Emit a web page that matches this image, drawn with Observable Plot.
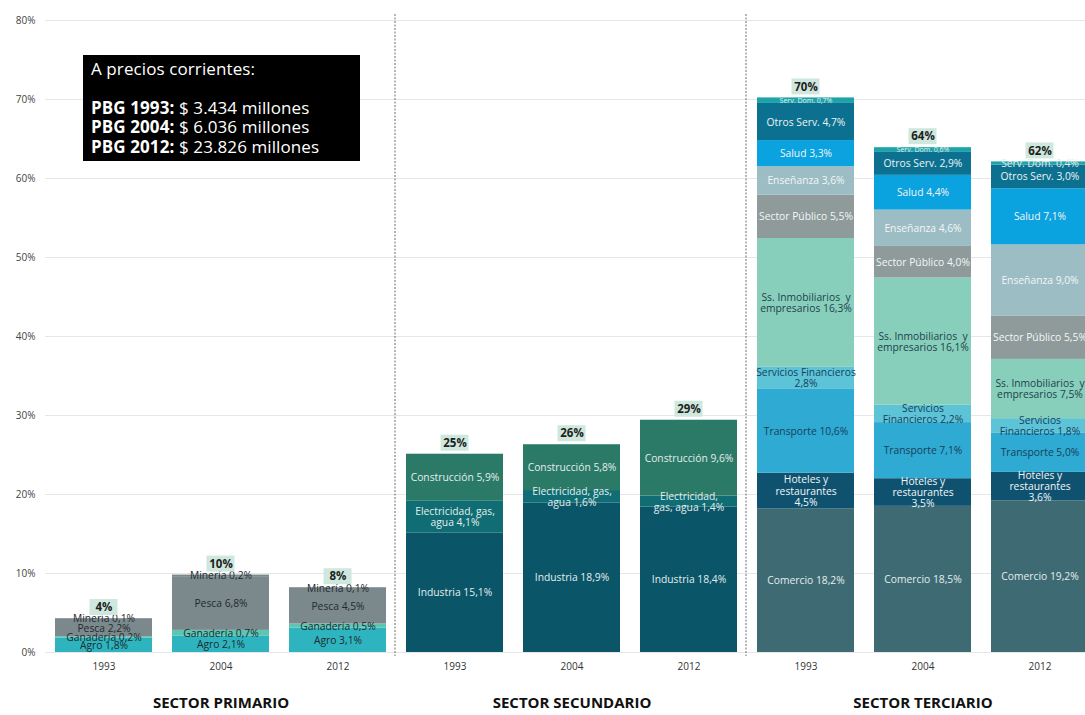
<!DOCTYPE html>
<html>
<head>
<meta charset="utf-8">
<script src="https://cdn.jsdelivr.net/npm/d3@7"></script>
<script src="https://cdn.jsdelivr.net/npm/@observablehq/plot@0.6"></script>
<style>
  html, body { margin: 0; padding: 0; background: #fff; overflow: hidden; }
  #wrap { position: relative; width: 1085px; height: 715px; font-family: "Open Sans", sans-serif; }
  #box { position: absolute; left: 83px; top: 55px; width: 269px; height: 102px; background: #000; color: #fff;
         padding: 4px 0 0 8px; font-size: 17px; line-height: 19.4px; white-space: pre; letter-spacing: 0.1px; }
  #box b { font-weight: 700; }
</style>
</head>
<body>
<div id="wrap"><div id="box"></div></div>
<script>
// ---------------- data ----------------
const years = ["1993", "2004", "2012"];
const sectorNames = ["SECTOR PRIMARIO", "SECTOR SECUNDARIO", "SECTOR TERCIARIO"];

const primRamas = ["Agro", "Ganadería", "Pesca", "Minería"];
const prim1993 = [1.8, 0.2, 2.2, 0.1];
const prim2004 = [2.1, 0.7, 6.8, 0.2];
const prim2012 = [3.1, 0.5, 4.5, 0.1];

const secRamas = ["Industria", "Electricidad, gas,\nagua", "Construcción"];
const sec1993 = [15.1, 4.1, 5.9];
const sec2004 = [18.9, 1.6, 5.8];
const sec2012 = [18.4, 1.4, 9.6];

const terRamas = ["Comercio", "Hoteles y\nrestaurantes\n", "Transporte", "Servicios\nFinancieros",
  "Ss. Inmobiliarios  y\nempresarios", "Sector Público", "Enseñanza", "Salud", "Otros Serv.", "Serv. Dom."];
const ter1993 = [18.2, 4.5, 10.6, 2.8, 16.3, 5.5, 3.6, 3.3, 4.7, 0.7];
const ter2004 = [18.5, 3.5, 7.1, 2.2, 16.1, 4.0, 4.6, 4.4, 2.9, 0.6];
const ter2012 = [19.2, 3.6, 5.0, 1.8, 7.5, 5.5, 9.0, 7.1, 3.0, 0.4];

// label wording that differs for a given bar
const labelOverrides = {
  "SECTOR SECUNDARIO|2012|1": "Electricidad,\ngas, agua",
  "SECTOR TERCIARIO|1993|3": "Servicios Financieros\n"
};

// styles
const primColors = ["#2db4bf", "#5ec5b1", "#7b898d", "#7b898d"];
const primText = ["#1f2a2e", "#1f2a2e", "#1f2a2e", "#1f2a2e"];
const secColors = ["#0a5668", "#0f6d73", "#2b7a67"];
const secText = ["#e4eded", "#e4eded", "#e4eded"];
const terColors = ["#3e6b73", "#0e5270", "#2eaad3", "#5dc4d8", "#87cfba", "#8f9b9b", "#9dbdc5", "#0aa2df", "#0c7190", "#1ea3a9"];
const terText = ["#e4eded", "#f2f6f6", "#173f5c", "#173f5c", "#1f3f50", "#f2f6f6", "#f2f6f6", "#f2f6f6", "#eef3f3", "#e4eded"];

const boxTitle = "A precios corrientes:";
const pbgYears = ["1993", "2004", "2012"];
const pbgValues = ["3.434", "6.036", "23.826"];

// ---------------- build rows ----------------
const sectors = [
  {name: sectorNames[0], ramas: primRamas, vals: [prim1993, prim2004, prim2012], colors: primColors, text: primText},
  {name: sectorNames[1], ramas: secRamas, vals: [sec1993, sec2004, sec2012], colors: secColors, text: secText},
  {name: sectorNames[2], ramas: terRamas, vals: [ter1993, ter2004, ter2012], colors: terColors, text: terText}
];
const fmt = v => v.toFixed(1).replace(".", ",") + "%";
const keys = [];
const rows = [];
const totals = [];
sectors.forEach(s => {
  years.forEach((yr, yi) => {
    const key = s.name + "|" + yr;
    keys.push(key);
    let total = 0;
    s.ramas.forEach((r, ri) => {
      const v = s.vals[yi][ri];
      total += v;
      const name = labelOverrides[key + "|" + ri] || r;
      const label = name.endsWith("\n") ? name + fmt(v) : name + " " + fmt(v);
      rows.push({key, sector: s.name, year: yr, rama: r, value: v, label,
        color: s.colors[ri], textColor: s.text[ri], small: r === "Serv. Dom." && yr !== "2012"});
    });
    totals.push({key, total, label: Math.round(total) + "%"});
  });
});
const sectorLabels = sectors.map(s => ({key: s.name + "|" + years[1], name: s.name}));
const dividers = [sectors[1].name + "|" + years[0], sectors[2].name + "|" + years[0]];
const yTicks = d3.range(0, 81, 10);

// ---------------- chart ----------------
const chart = Plot.plot({
  width: 1085,
  height: 715,
  marginTop: 20,
  marginBottom: 63,
  marginLeft: 45,
  marginRight: 0,
  style: {fontFamily: "Open Sans, sans-serif", background: "white"},
  x: {domain: keys, range: [45, 1098], paddingInner: 0.17, paddingOuter: 0.085, axis: null},
  y: {domain: [0, 80], axis: null},
  color: {type: "identity"},
  marks: [
    Plot.gridY(yTicks, {stroke: "#e6e6e6", strokeOpacity: 1}),
    Plot.axisY(yTicks, {tickSize: 0, tickPadding: 10, tickFormat: d => d + "%", fontSize: 10, fill: "#444", label: null}),
    Plot.axisX(keys, {tickSize: 0, tickPadding: 10, tickFormat: k => k.split("|")[1], fontSize: 10, fill: "#333", label: null}),
    Plot.ruleX(dividers, {dx: -60, stroke: "#6f6f6f", strokeDasharray: "2,1.5", strokeWidth: 1, insetTop: -6, insetBottom: -4}),
    Plot.rectY(rows, Plot.stackY({x: "key", y: "value", fill: "color"})),
    Plot.text(rows, Plot.stackY({x: "key", y: "value", text: "label", fill: "textColor",
      fontSize: d => d.small ? 7 : 10.3, lineHeight: 1.08})),
    Plot.barY(totals, {x: "key", y1: "total", y2: "total", fill: "#cfe8dd", insetTop: -19, insetBottom: 3, insetLeft: 34.5, insetRight: 34.5}),
    Plot.text(totals, {x: "key", y: "total", text: "label", dy: -11, fontWeight: "bold", fontSize: 11.5, fill: "#1e1e1e"}),
    Plot.text(sectorLabels, {x: "key", text: "name", frameAnchor: "bottom", dy: 55, fontWeight: "bold", fontSize: 15, fill: "#111"})
  ]
});
document.getElementById("wrap").prepend(chart);

const box = document.getElementById("box");
box.innerHTML = boxTitle + "\n\n" + pbgYears.map((y, i) => `<b>PBG ${y}:</b> $ ${pbgValues[i]} millones`).join("\n");
</script>
</body>
</html>
